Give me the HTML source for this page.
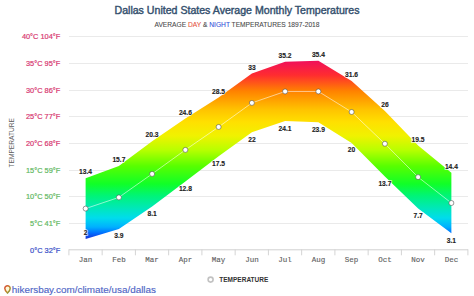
<!DOCTYPE html>
<html><head><meta charset="utf-8"><style>
html,body{margin:0;padding:0;background:#fff;width:474px;height:296px;overflow:hidden}
svg{display:block;font-family:"Liberation Sans",sans-serif}
.mono{font-family:"Liberation Mono",monospace}
.lbl{font-size:6.7px;font-weight:bold;fill:#fff;stroke:rgba(255,255,255,0.8);stroke-width:1.4px}
.lbl2{font-size:6.7px;font-weight:bold;fill:#222;stroke:#222;stroke-width:0.12px}
</style></head><body>
<svg width="474" height="296" viewBox="0 0 474 296">
<text x="237" y="13.6" text-anchor="middle" font-size="10.1" textLength="245" lengthAdjust="spacingAndGlyphs" fill="#34506e" stroke="#34506e" stroke-width="0.4">Dallas United States Average Monthly Temperatures</text>
<text x="237" y="27.2" text-anchor="middle" font-size="6.67" fill="#4a4a4a" stroke="#4a4a4a" stroke-width="0.08">AVERAGE <tspan fill="#e5533d" stroke="#e5533d">DAY</tspan> &amp; <tspan fill="#3050d8" stroke="#3050d8">NIGHT</tspan> TEMPERATURES 1897-2018</text>
<text transform="translate(14.0,142.8) rotate(-90)" text-anchor="middle" font-size="6.6" fill="#5e5e5e">TEMPERATURE</text>
<line x1="69.0" x2="468.0" y1="223.5" y2="223.5" stroke="#eaeaea" stroke-width="1"/>
<line x1="69.0" x2="468.0" y1="196.5" y2="196.5" stroke="#eaeaea" stroke-width="1"/>
<line x1="69.0" x2="468.0" y1="170.5" y2="170.5" stroke="#eaeaea" stroke-width="1"/>
<line x1="69.0" x2="468.0" y1="143.5" y2="143.5" stroke="#eaeaea" stroke-width="1"/>
<line x1="69.0" x2="468.0" y1="116.5" y2="116.5" stroke="#eaeaea" stroke-width="1"/>
<line x1="69.0" x2="468.0" y1="90.5" y2="90.5" stroke="#eaeaea" stroke-width="1"/>
<line x1="69.0" x2="468.0" y1="63.5" y2="63.5" stroke="#eaeaea" stroke-width="1"/>
<line x1="69.0" x2="468.0" y1="36.5" y2="36.5" stroke="#eaeaea" stroke-width="1"/>
<line x1="69.0" x2="468.0" y1="249.8" y2="249.8" stroke="#d0d0d0" stroke-width="1"/>
<line x1="68.9" x2="68.9" y1="249.3" y2="255.3" stroke="#d4d4d4" stroke-width="1"/>
<line x1="102.15" x2="102.15" y1="249.3" y2="255.3" stroke="#d4d4d4" stroke-width="1"/>
<line x1="135.4" x2="135.4" y1="249.3" y2="255.3" stroke="#d4d4d4" stroke-width="1"/>
<line x1="168.65" x2="168.65" y1="249.3" y2="255.3" stroke="#d4d4d4" stroke-width="1"/>
<line x1="201.9" x2="201.9" y1="249.3" y2="255.3" stroke="#d4d4d4" stroke-width="1"/>
<line x1="235.15" x2="235.15" y1="249.3" y2="255.3" stroke="#d4d4d4" stroke-width="1"/>
<line x1="268.4" x2="268.4" y1="249.3" y2="255.3" stroke="#d4d4d4" stroke-width="1"/>
<line x1="301.65" x2="301.65" y1="249.3" y2="255.3" stroke="#d4d4d4" stroke-width="1"/>
<line x1="334.9" x2="334.9" y1="249.3" y2="255.3" stroke="#d4d4d4" stroke-width="1"/>
<line x1="368.15" x2="368.15" y1="249.3" y2="255.3" stroke="#d4d4d4" stroke-width="1"/>
<line x1="401.4" x2="401.4" y1="249.3" y2="255.3" stroke="#d4d4d4" stroke-width="1"/>
<line x1="434.65" x2="434.65" y1="249.3" y2="255.3" stroke="#d4d4d4" stroke-width="1"/>
<line x1="467.9" x2="467.9" y1="249.3" y2="255.3" stroke="#d4d4d4" stroke-width="1"/>
<text x="60.3" y="252.6" text-anchor="end" font-size="8" textLength="30.18" lengthAdjust="spacingAndGlyphs" fill="#3a50c8" stroke="#3a50c8" stroke-width="0.22">0°C 32°F</text>
<text x="60.3" y="225.9" text-anchor="end" font-size="8" textLength="30.18" lengthAdjust="spacingAndGlyphs" fill="#62b862" stroke="#62b862" stroke-width="0.22">5°C 41°F</text>
<text x="60.3" y="199.2" text-anchor="end" font-size="8" textLength="34.30" lengthAdjust="spacingAndGlyphs" fill="#62b862" stroke="#62b862" stroke-width="0.22">10°C 50°F</text>
<text x="60.3" y="172.5" text-anchor="end" font-size="8" textLength="34.30" lengthAdjust="spacingAndGlyphs" fill="#62b862" stroke="#62b862" stroke-width="0.22">15°C 59°F</text>
<text x="60.3" y="145.8" text-anchor="end" font-size="8" textLength="34.30" lengthAdjust="spacingAndGlyphs" fill="#d83a72" stroke="#d83a72" stroke-width="0.22">20°C 68°F</text>
<text x="60.3" y="119.2" text-anchor="end" font-size="8" textLength="34.30" lengthAdjust="spacingAndGlyphs" fill="#d83a72" stroke="#d83a72" stroke-width="0.22">25°C 77°F</text>
<text x="60.3" y="92.5" text-anchor="end" font-size="8" textLength="34.30" lengthAdjust="spacingAndGlyphs" fill="#d83a72" stroke="#d83a72" stroke-width="0.22">30°C 86°F</text>
<text x="60.3" y="65.8" text-anchor="end" font-size="8" textLength="34.30" lengthAdjust="spacingAndGlyphs" fill="#d83a72" stroke="#d83a72" stroke-width="0.22">35°C 95°F</text>
<text x="60.3" y="39.1" text-anchor="end" font-size="8" textLength="38.41" lengthAdjust="spacingAndGlyphs" fill="#d83a72" stroke="#d83a72" stroke-width="0.22">40°C 104°F</text>
<text class="mono" x="85.6" y="261.6" text-anchor="middle" font-size="7.5" fill="#606060" stroke="#606060" stroke-width="0.12">Jan</text>
<text class="mono" x="118.9" y="261.6" text-anchor="middle" font-size="7.5" fill="#606060" stroke="#606060" stroke-width="0.12">Feb</text>
<text class="mono" x="152.1" y="261.6" text-anchor="middle" font-size="7.5" fill="#606060" stroke="#606060" stroke-width="0.12">Mar</text>
<text class="mono" x="185.4" y="261.6" text-anchor="middle" font-size="7.5" fill="#606060" stroke="#606060" stroke-width="0.12">Apr</text>
<text class="mono" x="218.6" y="261.6" text-anchor="middle" font-size="7.5" fill="#606060" stroke="#606060" stroke-width="0.12">May</text>
<text class="mono" x="251.9" y="261.6" text-anchor="middle" font-size="7.5" fill="#606060" stroke="#606060" stroke-width="0.12">Jun</text>
<text class="mono" x="285.1" y="261.6" text-anchor="middle" font-size="7.5" fill="#606060" stroke="#606060" stroke-width="0.12">Jul</text>
<text class="mono" x="318.4" y="261.6" text-anchor="middle" font-size="7.5" fill="#606060" stroke="#606060" stroke-width="0.12">Aug</text>
<text class="mono" x="351.6" y="261.6" text-anchor="middle" font-size="7.5" fill="#606060" stroke="#606060" stroke-width="0.12">Sep</text>
<text class="mono" x="384.9" y="261.6" text-anchor="middle" font-size="7.5" fill="#606060" stroke="#606060" stroke-width="0.12">Oct</text>
<text class="mono" x="418.1" y="261.6" text-anchor="middle" font-size="7.5" fill="#606060" stroke="#606060" stroke-width="0.12">Nov</text>
<text class="mono" x="451.4" y="261.6" text-anchor="middle" font-size="7.5" fill="#606060" stroke="#606060" stroke-width="0.12">Dec</text>
<linearGradient id="g" gradientUnits="userSpaceOnUse" x1="0" y1="61.0" x2="0" y2="239.0"><stop offset="0.000" stop-color="#f0105a"/><stop offset="0.079" stop-color="#ff2c30"/><stop offset="0.169" stop-color="#ff8200"/><stop offset="0.275" stop-color="#ffc400"/><stop offset="0.343" stop-color="#ffe000"/><stop offset="0.421" stop-color="#f0f200"/><stop offset="0.500" stop-color="#b8ff00"/><stop offset="0.590" stop-color="#58ff00"/><stop offset="0.691" stop-color="#10ff28"/><stop offset="0.758" stop-color="#00f478"/><stop offset="0.826" stop-color="#00e8b8"/><stop offset="0.882" stop-color="#00dcec"/><stop offset="0.933" stop-color="#00b0ff"/><stop offset="0.966" stop-color="#0070ff"/><stop offset="1.000" stop-color="#1830d8"/></linearGradient>
<polygon points="85.62,178.18 118.88,165.90 152.12,141.35 185.38,118.40 218.62,97.58 251.88,73.56 285.12,61.82 318.38,60.75 351.62,81.03 384.88,110.92 418.12,145.62 451.38,172.84 451.38,233.15 418.12,208.60 384.88,176.58 351.62,142.95 318.38,122.13 285.12,121.07 251.88,132.27 218.62,156.29 185.38,181.38 152.12,206.47 118.88,228.88 85.62,239.02" fill="url(#g)"/>
<polyline points="85.62,208.60 118.88,197.39 152.12,173.91 185.38,149.89 218.62,126.94 251.88,102.92 285.12,91.44 318.38,91.44 351.62,111.99 384.88,143.75 418.12,177.11 451.38,203.00" fill="none" stroke="rgba(255,255,255,0.55)" stroke-width="1"/>
<circle cx="85.62" cy="208.60" r="2.5" fill="#fff" stroke="rgba(70,70,70,0.55)" stroke-width="1"/>
<circle cx="118.88" cy="197.39" r="2.5" fill="#fff" stroke="rgba(70,70,70,0.55)" stroke-width="1"/>
<circle cx="152.12" cy="173.91" r="2.5" fill="#fff" stroke="rgba(70,70,70,0.55)" stroke-width="1"/>
<circle cx="185.38" cy="149.89" r="2.5" fill="#fff" stroke="rgba(70,70,70,0.55)" stroke-width="1"/>
<circle cx="218.62" cy="126.94" r="2.5" fill="#fff" stroke="rgba(70,70,70,0.55)" stroke-width="1"/>
<circle cx="251.88" cy="102.92" r="2.5" fill="#fff" stroke="rgba(70,70,70,0.55)" stroke-width="1"/>
<circle cx="285.12" cy="91.44" r="2.5" fill="#fff" stroke="rgba(70,70,70,0.55)" stroke-width="1"/>
<circle cx="318.38" cy="91.44" r="2.5" fill="#fff" stroke="rgba(70,70,70,0.55)" stroke-width="1"/>
<circle cx="351.62" cy="111.99" r="2.5" fill="#fff" stroke="rgba(70,70,70,0.55)" stroke-width="1"/>
<circle cx="384.88" cy="143.75" r="2.5" fill="#fff" stroke="rgba(70,70,70,0.55)" stroke-width="1"/>
<circle cx="418.12" cy="177.11" r="2.5" fill="#fff" stroke="rgba(70,70,70,0.55)" stroke-width="1"/>
<circle cx="451.38" cy="203.00" r="2.5" fill="#fff" stroke="rgba(70,70,70,0.55)" stroke-width="1"/>
<text class="lbl" x="85.6" y="174.3" text-anchor="middle">13.4</text>
<text class="lbl2" x="85.6" y="174.3" text-anchor="middle">13.4</text>
<text class="lbl" x="85.6" y="234.7" text-anchor="middle">2</text>
<text class="lbl2" x="85.6" y="234.7" text-anchor="middle">2</text>
<text class="lbl" x="118.9" y="162.0" text-anchor="middle">15.7</text>
<text class="lbl2" x="118.9" y="162.0" text-anchor="middle">15.7</text>
<text class="lbl" x="118.9" y="238.3" text-anchor="middle">3.9</text>
<text class="lbl2" x="118.9" y="238.3" text-anchor="middle">3.9</text>
<text class="lbl" x="152.1" y="137.4" text-anchor="middle">20.3</text>
<text class="lbl2" x="152.1" y="137.4" text-anchor="middle">20.3</text>
<text class="lbl" x="152.1" y="215.9" text-anchor="middle">8.1</text>
<text class="lbl2" x="152.1" y="215.9" text-anchor="middle">8.1</text>
<text class="lbl" x="185.4" y="114.5" text-anchor="middle">24.6</text>
<text class="lbl2" x="185.4" y="114.5" text-anchor="middle">24.6</text>
<text class="lbl" x="185.4" y="190.8" text-anchor="middle">12.8</text>
<text class="lbl2" x="185.4" y="190.8" text-anchor="middle">12.8</text>
<text class="lbl" x="218.6" y="93.7" text-anchor="middle">28.5</text>
<text class="lbl2" x="218.6" y="93.7" text-anchor="middle">28.5</text>
<text class="lbl" x="218.6" y="165.7" text-anchor="middle">17.5</text>
<text class="lbl2" x="218.6" y="165.7" text-anchor="middle">17.5</text>
<text class="lbl" x="251.9" y="69.7" text-anchor="middle">33</text>
<text class="lbl2" x="251.9" y="69.7" text-anchor="middle">33</text>
<text class="lbl" x="251.9" y="141.7" text-anchor="middle">22</text>
<text class="lbl2" x="251.9" y="141.7" text-anchor="middle">22</text>
<text class="lbl" x="285.1" y="57.9" text-anchor="middle">35.2</text>
<text class="lbl2" x="285.1" y="57.9" text-anchor="middle">35.2</text>
<text class="lbl" x="285.1" y="130.5" text-anchor="middle">24.1</text>
<text class="lbl2" x="285.1" y="130.5" text-anchor="middle">24.1</text>
<text class="lbl" x="318.4" y="56.9" text-anchor="middle">35.4</text>
<text class="lbl2" x="318.4" y="56.9" text-anchor="middle">35.4</text>
<text class="lbl" x="318.4" y="131.5" text-anchor="middle">23.9</text>
<text class="lbl2" x="318.4" y="131.5" text-anchor="middle">23.9</text>
<text class="lbl" x="351.6" y="77.1" text-anchor="middle">31.6</text>
<text class="lbl2" x="351.6" y="77.1" text-anchor="middle">31.6</text>
<text class="lbl" x="351.6" y="152.3" text-anchor="middle">20</text>
<text class="lbl2" x="351.6" y="152.3" text-anchor="middle">20</text>
<text class="lbl" x="384.9" y="107.0" text-anchor="middle">26</text>
<text class="lbl2" x="384.9" y="107.0" text-anchor="middle">26</text>
<text class="lbl" x="384.9" y="186.0" text-anchor="middle">13.7</text>
<text class="lbl2" x="384.9" y="186.0" text-anchor="middle">13.7</text>
<text class="lbl" x="418.1" y="141.7" text-anchor="middle">19.5</text>
<text class="lbl2" x="418.1" y="141.7" text-anchor="middle">19.5</text>
<text class="lbl" x="418.1" y="218.0" text-anchor="middle">7.7</text>
<text class="lbl2" x="418.1" y="218.0" text-anchor="middle">7.7</text>
<text class="lbl" x="451.4" y="168.9" text-anchor="middle">14.4</text>
<text class="lbl2" x="451.4" y="168.9" text-anchor="middle">14.4</text>
<text class="lbl" x="451.4" y="242.6" text-anchor="middle">3.1</text>
<text class="lbl2" x="451.4" y="242.6" text-anchor="middle">3.1</text>
<circle cx="210.6" cy="279.6" r="2.5" fill="#fff" stroke="#c2c2c2" stroke-width="1.6"/>
<text x="219.3" y="281.9" font-size="6.5" font-weight="bold" fill="#333">TEMPERATURE</text>
<linearGradient id="pg" x1="0" y1="0" x2="1" y2="1"><stop offset="0" stop-color="#d84a3a"/><stop offset="0.45" stop-color="#c8782a"/><stop offset="0.7" stop-color="#a89a30"/><stop offset="1" stop-color="#607040"/></linearGradient>
<g transform="translate(4.6,285.6)"><path d="M2.9,0.2 C1.4,0.2 0.2,1.4 0.2,2.9 C0.2,4.7 2.9,7.4 2.9,7.4 C2.9,7.4 5.6,4.7 5.6,2.9 C5.6,1.4 4.4,0.2 2.9,0.2 Z" fill="#fff8d8" stroke="url(#pg)" stroke-width="1.5"/></g>
<text x="11.8" y="293.0" font-size="9.9" fill="#4f66c6" stroke="#4f66c6" stroke-width="0.15">hikersbay.com/climate/usa/dallas</text>
</svg>
</body></html>
